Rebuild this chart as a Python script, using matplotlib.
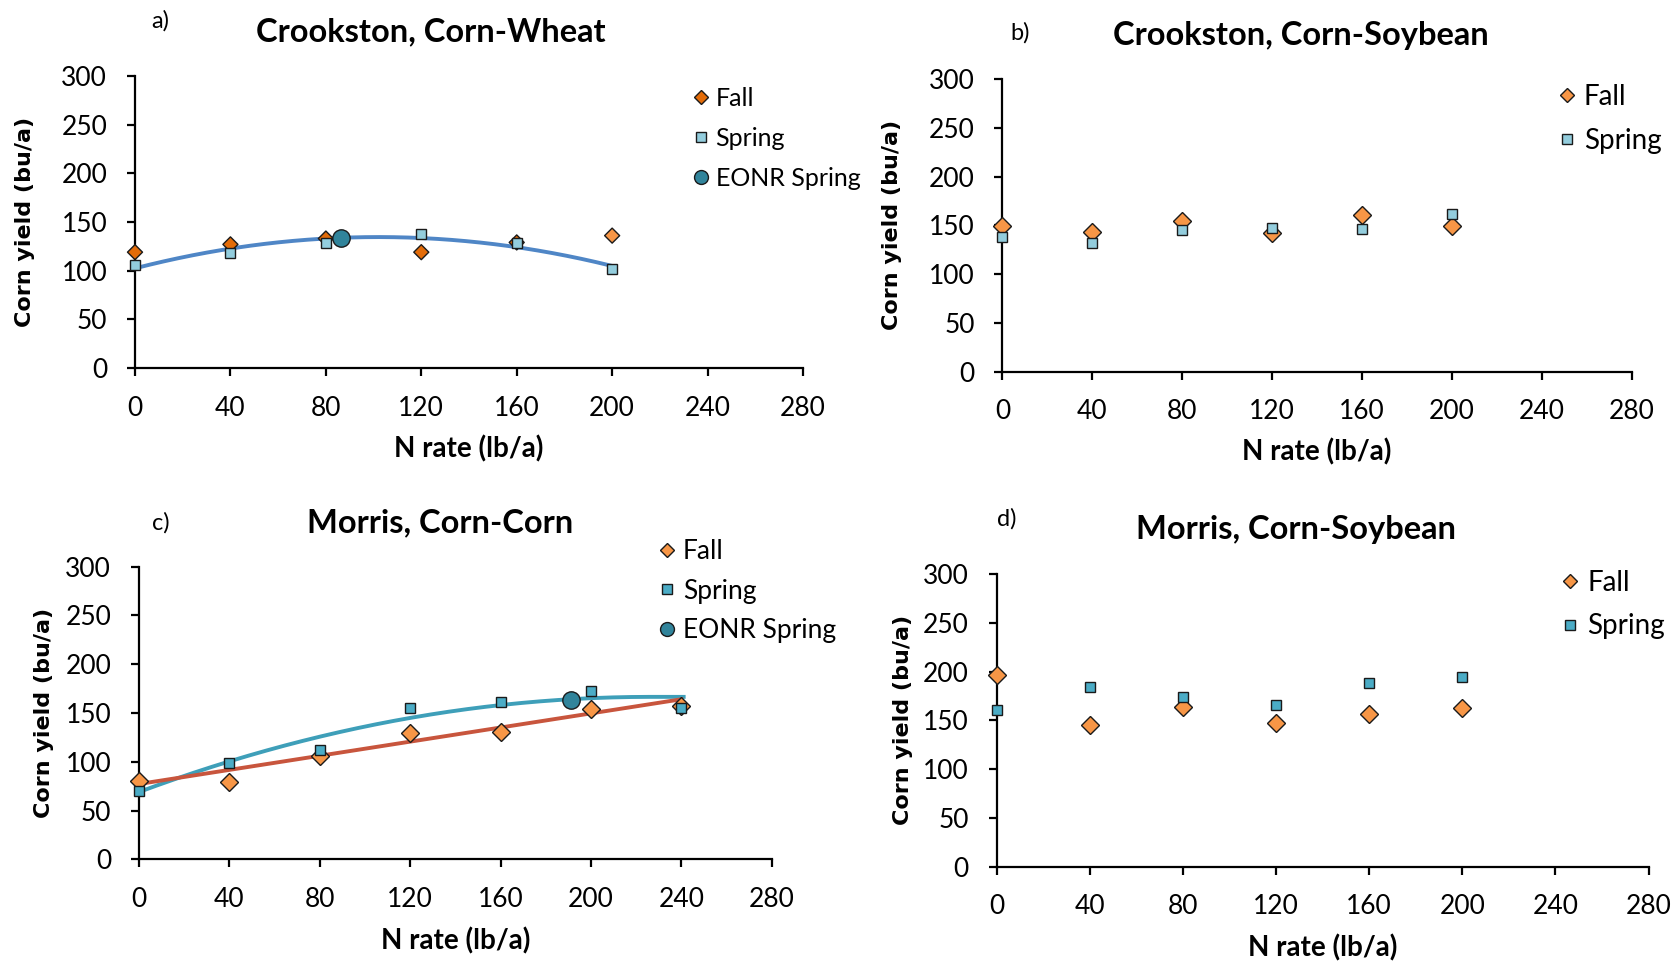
import numpy as np
import matplotlib
matplotlib.use("Agg")
import matplotlib.pyplot as plt
from matplotlib.lines import Line2D

plt.rcParams['font.family'] = ['Lato', 'DejaVu Sans']

# ---------------- data ----------------
n_rates_6 = [0, 40, 80, 120, 160, 200]
n_rates_7 = [0, 40, 80, 120, 160, 200, 240]

a_fall = [119, 127, 133, 119, 129, 136]
a_spring = [106, 118, 128, 138, 128, 102]
a_eonr_x = [86.5]
a_eonr_y = [134]
a_fit = [102.4, 0.630, -0.003089]     # quadratic trend (spring)

b_fall = [149, 143, 154, 142, 161, 149]
b_spring = [138, 132, 145, 147, 146, 162]

c_fall = [80, 79, 106, 129, 131, 154, 157]
c_spring = [70, 99, 112, 155, 161, 173, 155]
c_eonr_x = [191]
c_eonr_y = [163]
c_fit_spring = [69.0, 0.861, -0.0019]  # quadratic-plateau trend (spring)
c_fit_fall = [77.2, 0.362]             # linear trend (fall)

d_fall = [196, 145, 164, 147, 157, 163]
d_spring = [161, 184, 174, 166, 188, 194]

x_ticks = [0, 40, 80, 120, 160, 200, 240, 280]
y_ticks = [0, 50, 100, 150, 200, 250, 300]

titles = ["Crookston, Corn-Wheat", "Crookston, Corn-Soybean",
          "Morris, Corn-Corn", "Morris, Corn-Soybean"]
panel_tags = ["a)", "b)", "c)", "d)"]

# ---------------- style ----------------
DARK_ORANGE = "#E36C09"
LIGHT_ORANGE = "#F79646"
LIGHT_BLUE = "#93CDDD"
TEAL = "#4BACC6"
EONR_COL = "#31849B"
CURVE_A = "#4F86C6"
CURVE_C = "#3E9FB9"
RED_LINE = "#C8553D"

W, H = 1679, 963
fig = plt.figure(figsize=(W / 100, H / 100), dpi=100)

def frac(left, top, right, bottom):
    return [left / W, 1 - bottom / H, (right - left) / W, (bottom - top) / H]

ax_a = fig.add_axes(frac(135, 76, 803, 368))
ax_b = fig.add_axes(frac(1002.5, 79, 1631.5, 371.7))
ax_c = fig.add_axes(frac(139, 566.7, 771.8, 859.3))
ax_d = fig.add_axes(frac(996.5, 574, 1648.5, 866.7))

def style_axis(ax, ylab_x, xlab_y):
    ax.set_xlim(0, 280)
    ax.set_ylim(0, 300)
    ax.set_xticks(x_ticks)
    ax.set_yticks(y_ticks)
    for s in ["top", "right"]:
        ax.spines[s].set_visible(False)
    for s in ["left", "bottom"]:
        ax.spines[s].set_linewidth(1.6)
        ax.spines[s].set_color("black")
    ax.tick_params(axis="both", direction="out", length=6, width=1.6,
                   labelsize=19, pad=14, colors="black")
    ax.set_xlabel("N rate (lb/a)", fontsize=20, fontweight="bold")
    ax.set_ylabel("Corn yield (bu/a)", fontsize=16, fontweight="bold",
                  family="DejaVu Sans")
    # place labels by their centres (figure pixels)
    bb = ax.get_position()
    ax.yaxis.label.set_va("center")
    ax.xaxis.label.set_va("center")
    ax.yaxis.set_label_coords(ylab_x / W, bb.y0 + bb.height / 2,
                              transform=fig.transFigure)
    ax.xaxis.set_label_coords(bb.x0 + bb.width / 2, 1 - xlab_y / H,
                              transform=fig.transFigure)

def mk(ax, x, y, marker, face, size, z=4):
    ax.plot(x, y, linestyle="none", marker=marker, markerfacecolor=face,
            markeredgecolor="#1a1a1a", markeredgewidth=1.0, markersize=size,
            clip_on=False, zorder=z)

D_SIZE, S_SIZE, O_SIZE = 9.0, 7.8, 12.5

# ---- panel a ----
style_axis(ax_a, 25, 449)
xa = np.linspace(0, 200, 200)
ax_a.plot(xa, a_fit[0] + a_fit[1] * xa + a_fit[2] * xa ** 2, color=CURVE_A,
          lw=2.8, zorder=3)
a_fall_colors = [DARK_ORANGE] * 5 + [LIGHT_ORANGE]
ax_a.scatter(n_rates_6, a_fall, marker="D", s=(D_SIZE * 0.85) ** 2,
             c=a_fall_colors, edgecolors="#1a1a1a", linewidths=1.0,
             clip_on=False, zorder=4)
mk(ax_a, n_rates_6, a_spring, "s", LIGHT_BLUE, S_SIZE, 5)
mk(ax_a, a_eonr_x, a_eonr_y, "o", EONR_COL, O_SIZE, 6)

# ---- panel b ----
style_axis(ax_b, 892, 452)
mk(ax_b, n_rates_6, b_fall, "D", LIGHT_ORANGE, D_SIZE, 4)
mk(ax_b, n_rates_6, b_spring, "s", LIGHT_BLUE, S_SIZE, 5)

# ---- panel c ----
style_axis(ax_c, 44, 941)
xc = np.linspace(0, 241, 240)
vertex = -c_fit_spring[1] / (2 * c_fit_spring[2])
xq = np.minimum(xc, vertex)
ax_c.plot(xc, c_fit_spring[0] + c_fit_spring[1] * xq + c_fit_spring[2] * xq ** 2,
          color=CURVE_C, lw=2.8, zorder=3)
xl = np.linspace(0, 240, 50)
ax_c.plot(xl, c_fit_fall[0] + c_fit_fall[1] * xl, color=RED_LINE, lw=2.8, zorder=3)
mk(ax_c, n_rates_7, c_fall, "D", LIGHT_ORANGE, D_SIZE, 4)
mk(ax_c, n_rates_7, c_spring, "s", TEAL, S_SIZE, 5)
mk(ax_c, c_eonr_x, c_eonr_y, "o", EONR_COL, O_SIZE, 6)

# ---- panel d ----
style_axis(ax_d, 903, 948)
mk(ax_d, n_rates_6, d_fall, "D", LIGHT_ORANGE, D_SIZE, 4)
mk(ax_d, n_rates_6, d_spring, "s", TEAL, S_SIZE, 5)

# ---- titles, tags ----
title_pos = [(431, 32), (1301, 35), (440, 523), (1296, 530)]
tag_pos = [(160, 21), (1020, 33), (161, 523), (1007, 519)]
for t, (x, y) in zip(titles, title_pos):
    fig.text(x / W, 1 - y / H, t, ha="center", va="center", fontsize=23.5,
             fontweight="bold")
for t, (x, y) in zip(panel_tags, tag_pos):
    fig.text(x / W, 1 - y / H, t, ha="center", va="center", fontsize=17)

# ---- legends ----
def handle(marker, face, size):
    return Line2D([], [], linestyle="none", marker=marker, markerfacecolor=face,
                  markeredgecolor="#1a1a1a", markeredgewidth=1.0, markersize=size)

def legend(ax, handles, labels, x, y, fs, spacing):
    ax.legend(handles, labels, loc="upper left",
              bbox_to_anchor=(x / W, 1 - y / H), bbox_transform=fig.transFigure,
              frameon=False, fontsize=fs, handlelength=0.6, handletextpad=0.3,
              labelspacing=spacing, borderpad=0, borderaxespad=0)

legend(ax_a, [handle("D", DARK_ORANGE, 7.5), handle("s", LIGHT_BLUE, 6.5),
              handle("o", EONR_COL, 10)],
       ["Fall", "Spring", "EONR Spring"], 693, 87, 18, 0.68)
legend(ax_b, [handle("D", LIGHT_ORANGE, 7.5), handle("s", LIGHT_BLUE, 7.5)],
       ["Fall", "Spring"], 1559, 84, 20, 0.65)
legend(ax_c, [handle("D", LIGHT_ORANGE, 7.5), handle("s", TEAL, 7.0),
              handle("o", EONR_COL, 10)],
       ["Fall", "Spring", "EONR Spring"], 659, 539, 19, 0.55)
legend(ax_d, [handle("D", LIGHT_ORANGE, 7.5), handle("s", TEAL, 7.0)],
       ["Fall", "Spring"], 1562, 570, 20, 0.62)

fig.savefig("out.png", dpi=100)
